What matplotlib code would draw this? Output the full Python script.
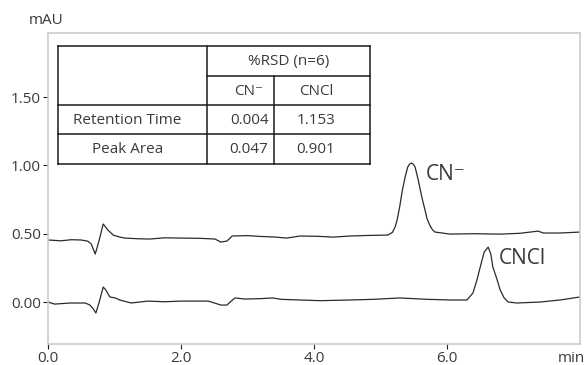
import matplotlib
matplotlib.use('Agg')
import matplotlib.pyplot as plt
from matplotlib.lines import Line2D

plt.rcParams['font.family'] = ['Open Sans', 'DejaVu Sans']

# CN- trace (upper): time (min), absorbance (mAU)
cn_t = [0.00, 0.20, 0.35, 0.50, 0.60, 0.65, 0.71, 0.77, 0.83, 0.90, 0.98, 1.08, 1.16,
        1.35, 1.53, 1.75, 2.00, 2.29, 2.51, 2.60, 2.69, 2.77, 3.00, 3.19, 3.40, 3.59,
        3.79, 4.05, 4.29, 4.54, 4.80, 5.11, 5.18, 5.22, 5.25, 5.29, 5.33, 5.37, 5.41,
        5.44, 5.47, 5.50, 5.52, 5.56, 5.59, 5.63, 5.67, 5.70, 5.74, 5.78, 5.82, 6.05,
        6.40, 6.80, 7.10, 7.37, 7.45, 7.70, 8.00]
cn_v = [0.454, 0.448, 0.456, 0.454, 0.445, 0.425, 0.351, 0.454, 0.571, 0.527, 0.490,
        0.475, 0.468, 0.463, 0.461, 0.470, 0.468, 0.466, 0.461, 0.439, 0.446, 0.483,
        0.486, 0.480, 0.476, 0.468, 0.483, 0.481, 0.475, 0.483, 0.487, 0.490, 0.510,
        0.549, 0.600, 0.700, 0.820, 0.914, 0.988, 1.010, 1.017, 1.005, 0.988, 0.910,
        0.841, 0.750, 0.673, 0.610, 0.564, 0.530, 0.512, 0.497, 0.500, 0.497, 0.503,
        0.519, 0.505, 0.505, 0.512]

# CNCl trace (lower)
cncl_t = [0.00, 0.10, 0.33, 0.56, 0.63, 0.68, 0.72, 0.77, 0.83, 0.87, 0.93, 1.01,
          1.08, 1.25, 1.50, 1.75, 2.00, 2.41, 2.60, 2.69, 2.81, 2.96, 3.20, 3.38, 3.50,
          3.79, 4.10, 4.54, 4.90, 5.29, 5.70, 6.05, 6.30, 6.39, 6.45, 6.50, 6.56, 6.62,
          6.66, 6.69, 6.75, 6.80, 6.86, 6.92, 7.05, 7.40, 7.70, 8.00]
cncl_v = [0.000, -0.015, -0.007, -0.007, -0.022, -0.050, -0.080, 0.000, 0.110, 0.088,
          0.037, 0.030, 0.015, -0.007, 0.007, 0.002, 0.007, 0.007, -0.022, -0.022,
          0.030, 0.022, 0.025, 0.030, 0.020, 0.015, 0.010, 0.015, 0.020, 0.030, 0.020,
          0.015, 0.015, 0.066, 0.160, 0.256, 0.366, 0.402, 0.350, 0.256, 0.170, 0.088,
          0.030, 0.000, -0.007, 0.000, 0.015, 0.037]

# table contents
col_header = '%RSD (n=6)'
sub_headers = ['CN\u207b', 'CNCl']
row_names = ['Retention Time', 'Peak Area']
rsd_cn = ['0.004', '0.047']
rsd_cncl = ['1.153', '0.901']

xticks = [0.0, 2.0, 4.0, 6.0]
yticks = [0.00, 0.50, 1.00, 1.50]

txt = '#3a3a3a'
fig = plt.figure(figsize=(5.87, 3.65), dpi=100)
ax = fig.add_axes([0.0818, 0.0575, 0.9062, 0.852])

ax.plot(cn_t, cn_v, color='#2a2a2a', lw=0.9)
ax.plot(cncl_t, cncl_v, color='#2a2a2a', lw=0.9)

ax.set_xlim(0, 8.0)
ax.set_ylim(-0.307, 1.968)
ax.set_xticks(xticks)
ax.set_xticklabels(['%.1f' % v for v in xticks])
ax.set_yticks(yticks)
ax.set_yticklabels(['%.2f' % v for v in yticks])
ax.tick_params(length=3.5, width=0.8, color='#222222', labelcolor=txt,
               labelsize=11, pad=1.5)
for s in ax.spines.values():
    s.set_color('#cccccc')
    s.set_linewidth(1.2)

fig.text(46/587, 1-20/365, 'mAU', ha='center', va='center', fontsize=11, color=txt)
fig.text(585/587, 1-358/365, 'min', ha='right', va='center', fontsize=11, color=txt)

# peak labels
ax.text(5.68, 0.93, 'CN\u207b', fontsize=15, color=txt, va='center')
ax.text(6.78, 0.32, 'CNCl', fontsize=15, color=txt, va='center')

# table drawn in axes coords
L, c1, c2, R = 0.0188, 0.299, 0.425, 0.605
T, h1, h2, h3, B = 0.958, 0.862, 0.768, 0.675, 0.579
tb = ax.transAxes
lines = [
    ([L, R], [T, T]), ([L, R], [B, B]), ([L, L], [T, B]), ([R, R], [T, B]),
    ([c1, c1], [T, B]), ([c2, c2], [h1, B]),
    ([c1, R], [h1, h1]), ([L, R], [h2, h2]), ([L, R], [h3, h3]),
]
for xs, ys in lines:
    ax.add_line(Line2D(xs, ys, transform=tb, color='#1a1a1a', lw=1.1, clip_on=False))

fs = 11
ax.text((c1+R)/2, 0.907, col_header, transform=tb, ha='center', va='center', fontsize=fs, color=txt)
ax.text(0.378, 0.812, sub_headers[0], transform=tb, ha='center', va='center', fontsize=fs, color=txt)
ax.text(0.504, 0.812, sub_headers[1], transform=tb, ha='center', va='center', fontsize=fs, color=txt)
for ry, name, a, b in zip([0.720, 0.627], row_names, rsd_cn, rsd_cncl):
    ax.text(0.149, ry, name, transform=tb, ha='center', va='center', fontsize=fs, color=txt)
    ax.text(0.378, ry, a, transform=tb, ha='center', va='center', fontsize=fs, color=txt)
    ax.text(0.504, ry, b, transform=tb, ha='center', va='center', fontsize=fs, color=txt)

fig.savefig('out.png', dpi=100)
